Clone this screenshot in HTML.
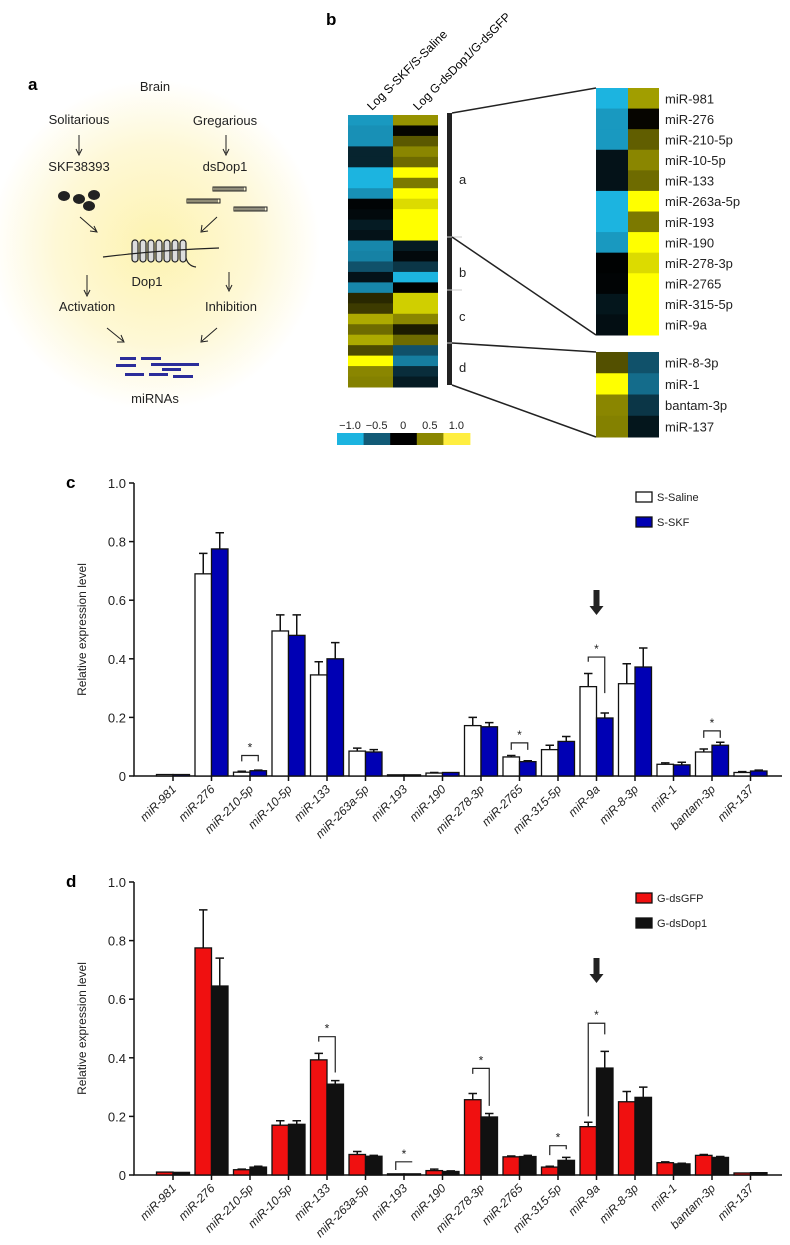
<!DOCTYPE html>
<html><head><meta charset="utf-8"><style>
html,body{margin:0;padding:0;background:#fff;}
svg{display:block;font-family:"Liberation Sans",Arial,sans-serif;}
</style></head><body>
<svg id="fig" width="790" height="1245" viewBox="0 0 790 1245">
<defs>
<radialGradient id="glow" cx="50%" cy="50%" r="50%">
<stop offset="0" stop-color="#fdf3b0"/><stop offset="0.6" stop-color="#fef8d6"/><stop offset="1" stop-color="#ffffff"/>
</radialGradient>
</defs>
<g>
<circle cx="155" cy="245" r="165" fill="url(#glow)"/>
<text x="28" y="90" font-size="17" font-weight="bold">a</text>
<g font-size="13" fill="#222" text-anchor="middle">
<text x="155" y="91">Brain</text>
<text x="79" y="124">Solitarious</text>
<text x="225" y="125">Gregarious</text>
<text x="79" y="171">SKF38393</text>
<text x="225" y="171">dsDop1</text>
<text x="147" y="286">Dop1</text>
<text x="87" y="311">Activation</text>
<text x="231" y="311">Inhibition</text>
<text x="155" y="403">miRNAs</text>
</g>
<g stroke="#222" stroke-width="1" fill="none">
<path d="M79 135 V153 M76 149 L79 155 L82 149"/>
<path d="M226 135 V153 M223 149 L226 155 L229 149"/>
<path d="M80 217 L96 231 M90 231 L97 232 L94 226"/>
<path d="M217 217 L202 231 M202 225 L201 232 L208 231"/>
<path d="M87 275 V294 M84 290 L87 296 L90 290"/>
<path d="M229 272 V289 M226 285 L229 291 L232 285"/>
<path d="M107 328 L123 341 M117 342 L124 342 L121 335"/>
<path d="M217 328 L202 341 M202 335 L201 342 L208 341"/>
</g>
<g fill="#222">
<ellipse cx="64" cy="196" rx="6" ry="5"/><ellipse cx="79" cy="199" rx="6" ry="5"/><ellipse cx="94" cy="195" rx="6" ry="5"/><ellipse cx="89" cy="206" rx="6" ry="5"/>
</g>
<g stroke="#222" fill="none" stroke-width="1">
<rect x="213" y="187" width="33" height="4"/><path d="M215 187v4M217 187v4M219 187v4M221 187v4M223 187v4M225 187v4M227 187v4M229 187v4M231 187v4M233 187v4M235 187v4M237 187v4M239 187v4M241 187v4M243 187v4"/>
<rect x="187" y="199" width="33" height="4"/><path d="M189 199v4M191 199v4M193 199v4M195 199v4M197 199v4M199 199v4M201 199v4M203 199v4M205 199v4M207 199v4M209 199v4M211 199v4M213 199v4M215 199v4M217 199v4"/>
<rect x="234" y="207" width="33" height="4"/><path d="M236 207v4M238 207v4M240 207v4M242 207v4M244 207v4M246 207v4M248 207v4M250 207v4M252 207v4M254 207v4M256 207v4M258 207v4M260 207v4M262 207v4M264 207v4"/>
</g>
<g stroke="#222" stroke-width="1.2">
<g fill="#ddd">
<rect x="132" y="240" width="6" height="22" rx="3"/><rect x="140" y="240" width="6" height="22" rx="3"/><rect x="148" y="240" width="6" height="22" rx="3"/><rect x="156" y="240" width="6" height="22" rx="3"/><rect x="164" y="240" width="6" height="22" rx="3"/><rect x="172" y="240" width="6" height="22" rx="3"/><rect x="180" y="240" width="6" height="22" rx="3"/>
</g>
<path d="M103 257 Q160 250 219 248" fill="none"/>
<path d="M186 258 q2 8 10 9" fill="none"/>
</g>
<g fill="#2b2d9a">
<rect x="120" y="357" width="16" height="3"/><rect x="141" y="357" width="20" height="3"/><rect x="116" y="364" width="20" height="3"/><rect x="151" y="363" width="48" height="3"/><rect x="162" y="368" width="19" height="3"/><rect x="125" y="373" width="19" height="3"/><rect x="149" y="373" width="19" height="3"/><rect x="173" y="375" width="20" height="3"/>
</g>
</g>
<g>
<text x="326" y="25" font-size="17" font-weight="bold">b</text>
<text transform="translate(372,111) rotate(-45)" font-size="12">Log S-SKF/S-Saline</text>
<text transform="translate(418,111) rotate(-45)" font-size="12">Log G-dsDop1/G-dsGFP</text>
<g id="heatLeft"></g>
<g id="heatRight"></g>
<rect x="447" y="113" width="5" height="272" fill="#222"/>
<g stroke="#ccc" stroke-width="1"><line x1="447" y1="237" x2="462" y2="237"/><line x1="447" y1="290" x2="462" y2="290"/><line x1="447" y1="343" x2="462" y2="343"/></g>
<g font-size="13" fill="#222">
<text x="459" y="184">a</text>
<text x="459" y="277">b</text>
<text x="459" y="321">c</text>
<text x="459" y="372">d</text>
</g>
<g stroke="#222" stroke-width="1.5">
<line x1="452" y1="113" x2="596" y2="88"/><line x1="452" y1="237" x2="596" y2="335"/>
<line x1="452" y1="343" x2="596" y2="352"/><line x1="452" y1="385" x2="596" y2="437"/>
</g>
<g id="colorbar"></g>
</g>
<g id="chartC"></g>
<g id="chartD"></g>
</svg>
<script>
const heatLeftS = [-0.85,-0.8,-0.8,-0.2,-0.2,-1.0,-1.0,-0.8,-0.02,-0.05,-0.15,-0.1,-0.75,-0.72,-0.45,-0.1,-0.75,0.15,0.22,0.65,0.4,0.65,0.28,1.0,0.5,0.48];
const heatLeftG = [0.55,0.02,0.33,0.5,0.4,1.0,0.45,1.0,0.85,1.0,1.0,1.0,-0.15,-0.05,-0.3,-1.0,0,0.8,0.8,0.5,0.1,0.4,-0.45,-0.7,-0.25,-0.15];
const zoomANames = ["miR-981","miR-276","miR-210-5p","miR-10-5p","miR-133","miR-263a-5p","miR-193","miR-190","miR-278-3p","miR-2765","miR-315-5p","miR-9a"];
const zoomAS = [-1.0,-0.85,-0.85,-0.1,-0.1,-1.0,-1.0,-0.85,-0.01,-0.02,-0.12,-0.08];
const zoomAG = [0.6,0.02,0.35,0.5,0.4,1.0,0.45,1.0,0.85,1.0,1.0,1.0];
const zoomDNames = ["miR-8-3p","miR-1","bantam-3p","miR-137"];
const zoomDS = [0.3,1.0,0.5,0.48];
const zoomDG = [-0.45,-0.6,-0.3,-0.12];
const cbTicks = ["\u22121.0","\u22120.5","0","0.5","1.0"];

const NS="http://www.w3.org/2000/svg";
function mk(tag,attrs,parent){const e=document.createElementNS(NS,tag);for(const k in attrs)e.setAttribute(k,attrs[k]);parent.appendChild(e);return e;}
const stops=[[-1,[28,180,224]],[-0.5,[18,90,118]],[0,[0,0,0]],[0.5,[138,134,0]],[1,[255,255,0]]];
function col(v){v=Math.max(-1,Math.min(1,v));for(let i=0;i<4;i++){const a=stops[i],b=stops[i+1];if(v<=b[0]){const t=(v-a[0])/(b[0]-a[0]);const c=a[1].map((x,j)=>Math.round(x+(b[1][j]-x)*t));return `rgb(${c})`;}}return "rgb(255,255,0)";}

const hl=document.getElementById('heatLeft');
const rh=272/26;
heatLeftS.forEach((v,i)=>{
 const r=mk('rect',{x:348,y:115+i*rh,width:45,height:rh+0.5,fill:col(v)},hl);
 
 
 const r2=mk('rect',{x:393,y:115+i*rh,width:45,height:rh+0.5,fill:col(heatLeftG[i])},hl);
 
 
});
const hr=document.getElementById('heatRight');
function zoomBlock(names,S,G,y0,h){
 names.forEach((n,i)=>{
  const a=mk('rect',{x:596,y:y0+i*h,width:32,height:h+0.5,fill:col(S[i])},hr);
  
  
  const b=mk('rect',{x:628,y:y0+i*h,width:31,height:h+0.5,fill:col(G[i])},hr);
  
  
  const t=mk('text',{x:665,y:y0+i*h+h/2+5,'font-size':13,fill:'#222'},hr);
  t.textContent=n;
  
  
 });
}
zoomBlock(zoomANames,zoomAS,zoomAG,88,247/12);
zoomBlock(zoomDNames,zoomDS,zoomDG,352,85/4);
const cb=document.getElementById('colorbar');
cbTicks.forEach((t,i)=>{
 const r=mk('rect',{x:337+i*26.6,y:433,width:27,height:12,fill:i==4?'#ffee40':col(-1+i*0.5)},cb);
 
 
 const tx=mk('text',{x:350+i*26.6,y:429,'font-size':11,'text-anchor':'middle',fill:'#222'},cb);
 tx.textContent=t;
 
 
});

const categories = ["miR-981","miR-276","miR-210-5p","miR-10-5p","miR-133","miR-263a-5p","miR-193","miR-190","miR-278-3p","miR-2765","miR-315-5p","miR-9a","miR-8-3p","miR-1","bantam-3p","miR-137"];
const yTicks = [0,0.2,0.4,0.6,0.8,1.0];
const yTickLabels = ["0","0.2","0.4","0.6","0.8","1.0"];
const salineVals = [0.005,0.69,0.013,0.495,0.345,0.085,0.004,0.01,0.172,0.065,0.09,0.305,0.315,0.04,0.082,0.012];
const salineErr  = [0.005,0.76,0.016,0.55,0.39,0.095,0.004,0.012,0.2,0.07,0.105,0.35,0.383,0.045,0.092,0.015];
const skfVals    = [0.005,0.775,0.018,0.48,0.40,0.082,0.004,0.012,0.168,0.049,0.118,0.198,0.372,0.038,0.105,0.017];
const skfErr     = [0.005,0.83,0.02,0.55,0.455,0.09,0.004,0.013,0.182,0.052,0.135,0.215,0.437,0.047,0.115,0.02];
const gfpVals    = [0.01,0.775,0.018,0.17,0.393,0.07,0.004,0.015,0.257,0.062,0.027,0.165,0.25,0.042,0.067,0.007];
const gfpErr     = [0.01,0.905,0.02,0.185,0.415,0.08,0.004,0.02,0.278,0.065,0.03,0.18,0.285,0.045,0.07,0.007];
const dop1Vals   = [0.009,0.645,0.027,0.173,0.31,0.064,0.004,0.012,0.198,0.063,0.05,0.365,0.265,0.038,0.06,0.008];
const dop1Err    = [0.009,0.74,0.03,0.185,0.322,0.067,0.004,0.014,0.21,0.067,0.06,0.422,0.3,0.04,0.063,0.008];
const sigC = [[2,0.07,0.05,0.05],[9,0.113,0.089,0.089],[11,0.406,0.39,0.283],[14,0.154,0.13,0.13]];
const sigD = [[4,0.472,0.455,0.35],[6,0.045,0.017,0.045],[8,0.364,0.345,0.236],[10,0.10,0.068,0.088],[11,0.518,0.2,0.48]];

function drawChart(gid,base,names,colors,sVals,sErr,tVals,tErr,sig,label,legY,arrowTop){
 const g=document.getElementById(gid);
 const y=v=>base-v*293;
 const x=i=>173+i*38.5;
 const lab=mk('text',{x:66,y:y(1)+5,'font-size':17,'font-weight':'bold'},g);
 lab.textContent=label;
 
 
 const ax=mk('path',{d:`M134 ${y(1)} V${base} H782`,stroke:'#111','stroke-width':1.5,fill:'none'},g);
 
 
 yTicks.forEach((t,i)=>{
  const tk=mk('line',{x1:129,x2:134,y1:y(t),y2:y(t),stroke:'#111','stroke-width':1.5},g);
  
  
  const tl=mk('text',{x:126,y:y(t)+5,'font-size':13,'text-anchor':'end',fill:'#222'},g);
  tl.textContent=yTickLabels[i];
  
  
 });
 const yt=mk('text',{transform:`translate(86,${y(0.5)}) rotate(-90)`,'font-size':12,'text-anchor':'middle',fill:'#222'},g);
 yt.textContent='Relative expression level';
 
 
 names.forEach((n,i)=>{
  const cx=x(i);
  [[sVals,sErr,colors[0],cx-16.5],[tVals,tErr,colors[1],cx]].forEach(([v,e,c,bx],k)=>{
   const b=mk('rect',{x:bx,y:y(v[i]),width:16.5,height:Math.max(0.5,v[i]*293),fill:c,stroke:'#111','stroke-width':1.3},g);
   
   
   if(e[i]>v[i]+0.001){
    const eb=mk('path',{d:`M${bx+8.25} ${y(v[i])} V${y(e[i])} M${bx+4} ${y(e[i])} H${bx+12.5}`,stroke:'#111','stroke-width':1.5,fill:'none'},g);
    
    
   }
  });
  const tk=mk('line',{x1:cx,x2:cx,y1:base,y2:base+5,stroke:'#111','stroke-width':1.5},g);
  
  
  const tl=mk('text',{transform:`translate(${cx+4},${base+14}) rotate(-45)`,'font-size':12,'font-style':'italic','text-anchor':'end',fill:'#222'},g);
  tl.textContent=n;
  
  
 });
 sig.forEach(([i,top,l,r])=>{
  const x1=x(i)-8.25,x2=x(i)+8.25;
  const p=mk('path',{d:`M${x1} ${y(l)} V${y(top)} H${x2} V${y(r)}`,stroke:'#222','stroke-width':1.2,fill:'none'},g);
  
  
  const s=mk('text',{x:x(i),y:y(top)-4,'font-size':12,'text-anchor':'middle',fill:'#222'},g);
  s.textContent='*';
  
  
 });
 const ar=mk('path',{d:`M${x(11)-3} ${arrowTop} h6 v16 h4 l-7 9 l-7 -9 h4 z`,fill:'#222'},g);
 
 
 [0,1].forEach(k=>{
  const r=mk('rect',{x:636,y:legY+k*25-5,width:16,height:10,fill:colors[k],stroke:'#111','stroke-width':1.3},g);
  
  
  const t=mk('text',{x:657,y:legY+k*25+4,'font-size':11,fill:'#222'},g);
  t.textContent=colors[2+k];
  
  
 });
}
drawChart('chartC',776,categories,['#fff','#0000b4','S-Saline','S-SKF'],salineVals,salineErr,skfVals,skfErr,sigC,'c',497,590);
drawChart('chartD',1175,categories,['#f01010','#111','G-dsGFP','G-dsDop1'],gfpVals,gfpErr,dop1Vals,dop1Err,sigD,'d',898,958);
</script>
</body></html>
